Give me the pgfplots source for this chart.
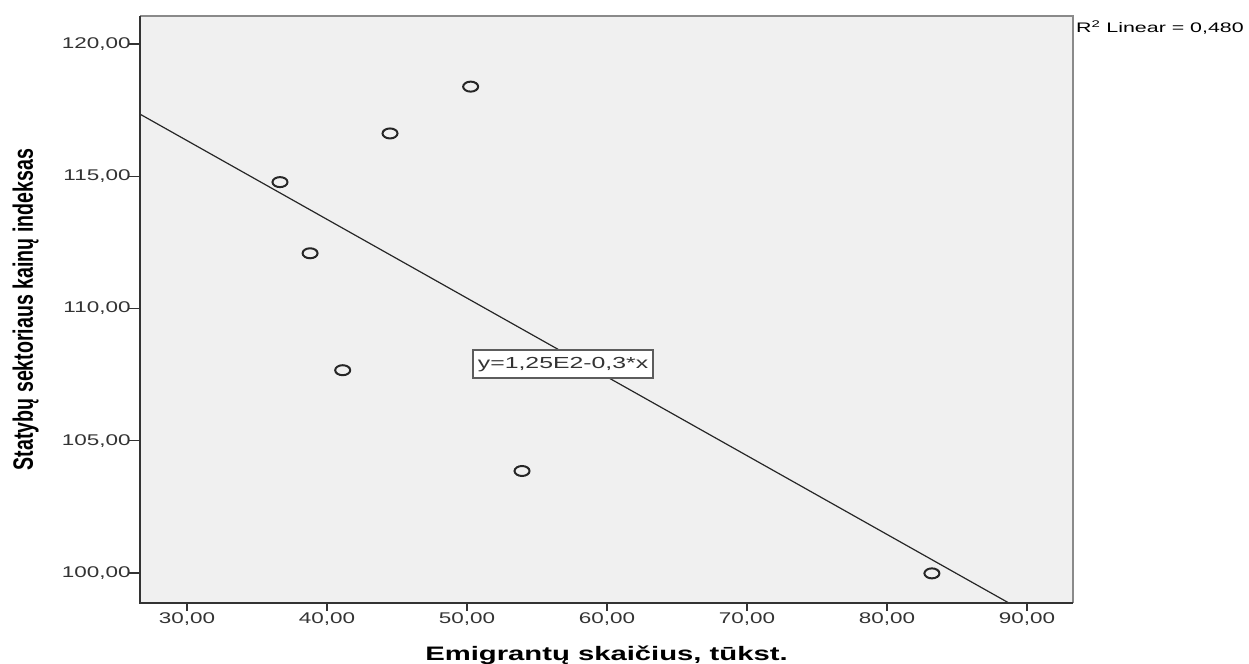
\documentclass[border=0pt]{standalone}
\usepackage{fontspec}
\setmainfont{Liberation Sans}
\newfontfamily\tickfont[FakeStretch=1.45]{Liberation Sans}
\newfontfamily\wideFont[FakeStretch=1.55]{Liberation Sans}
\newfontfamily\xlabfont[FakeStretch=1.5]{Liberation Sans}
\newfontfamily\ylabfont[FakeStretch=0.7]{Liberation Sans}
\usepackage{pgfplots}
\pgfplotsset{compat=1.18}
\definecolor{bgc}{HTML}{F0F0F0}
\definecolor{frameg}{HTML}{8A8A8A}
\definecolor{darkl}{HTML}{333333}
\begin{document}
\begin{tikzpicture}
\useasboundingbox (0,0) rectangle (1249bp,664bp);
\begin{axis}[
  at={(140bp,61bp)}, anchor=south west,
  scale only axis, width=933bp, height=587bp,
  xmin=26.64, xmax=93.29, ymin=98.87, ymax=121.06,
  xtick={30,40,...,90}, ytick={100,105,...,120},
  tick pos=left, tick align=outside,
  xtick style={/pgfplots/major tick length=8bp, line width=1.8bp, color=darkl},
  ytick style={/pgfplots/major tick length=12bp, line width=1.3bp, color=darkl},
  axis line style={draw=none},
  axis background/.style={fill=bgc},
  /pgf/number format/.cd, fixed, fixed zerofill, precision=2, use comma, assume math mode=true,
  /pgfplots/.cd,
  tick label style={font=\fontsize{15.5bp}{17bp}\tickfont, text=darkl},
  yticklabel style={anchor=east, inner sep=0pt, xshift=-5bp},
  xticklabel style={anchor=north, inner sep=0pt, yshift=-5bp},
  clip=false,
]
\addplot[black!85, line width=1.2bp] coordinates {(26.64,117.35) (88.71,98.87)};
\addplot[only marks, mark=o, mark size=5bp, mark options={xscale=1.5, line width=2bp, draw=black!85}] coordinates {
(36.64,114.78)
(38.79,112.09)
(41.12,107.67)
(44.50,116.62)
(50.26,118.39)
(53.93,103.86)
(83.21,99.99)
};
\draw[frameg, line width=1.5bp] (rel axis cs:0,1) -- (rel axis cs:1,1) -- (rel axis cs:1,0);
\draw[darkl, line width=1.6bp] (rel axis cs:0,1) -- (rel axis cs:0,0) -- (rel axis cs:1,0);
\node[draw=darkl!80, line width=1.4bp, fill=white, minimum width=180bp, minimum height=28bp, inner sep=0pt,
  font=\fontsize{16bp}{18bp}\wideFont, text=darkl] at (axis cs:56.86,107.90) {y=1,25E2-0,3*x};
\path (rel axis cs:1,1) ++(3bp,-17bp) node[anchor=base west, inner sep=0pt, font=\fontsize{13.8bp}{16bp}\wideFont]
  {R\textsuperscript{2} Linear = 0,480};
\path (rel axis cs:0.5,0) ++(0bp,-57bp) node[anchor=base, inner sep=0pt, font=\fontsize{19.5bp}{22bp}\xlabfont\bfseries]
  {Emigrantų skaičius, tūkst.};
\path (rel axis cs:0,0.5) ++(-107bp,0bp) node[anchor=base, rotate=90, inner sep=0pt, font=\fontsize{28bp}{30bp}\ylabfont\bfseries]
  {Statybų sektoriaus kainų indeksas};
\end{axis}
\end{tikzpicture}
\end{document}
